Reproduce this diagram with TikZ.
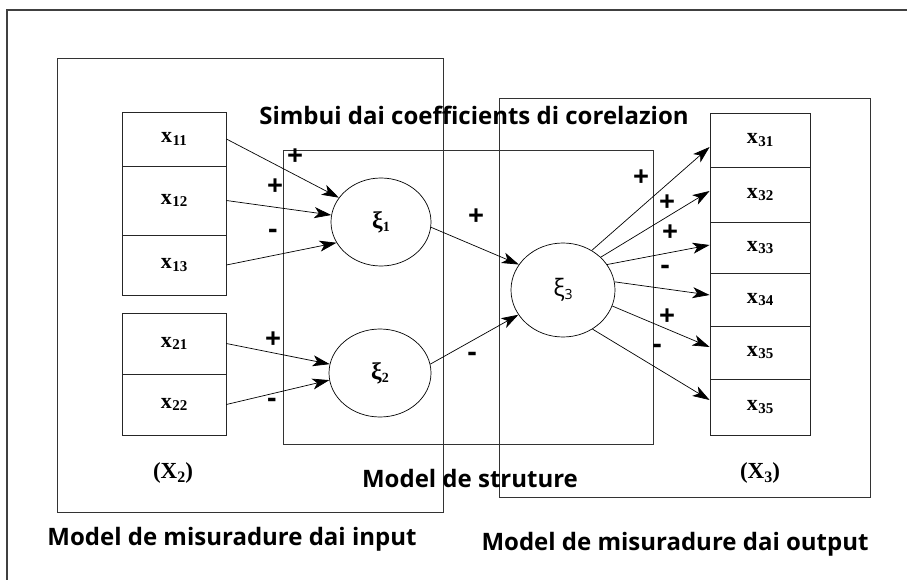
\documentclass[tikz,border=0pt]{standalone}
\usepackage{fontspec}
\setmainfont{Liberation Serif}
\setsansfont{Open Sans}
\usetikzlibrary{shapes.geometric,arrows.meta}

% indicator label: bold x with a lowered index
\newcommand{\indlab}[1]{x\kern0.5pt\raisebox{-2.5pt}{\fontsize{15}{15}\selectfont #1}}
\newcommand{\latlab}[1]{\fontsize{24}{24}\selectfont ξ\raisebox{-3pt}{\fontsize{14}{14}\selectfont #1}}
\newcommand{\blocklab}[1]{(X\raisebox{-3.5pt}{\fontsize{16}{16}\selectfont #1})}

\begin{document}
\begin{tikzpicture}[x=1pt,y=-1pt,
  box/.style={draw=black!80,line width=0.9pt},
  cell/.style={draw=black!85,line width=0.8pt,rectangle,inner sep=0pt,
    minimum width=104pt,font=\bfseries\fontsize{22}{22}\selectfont},
  rcell/.style={cell,minimum width=100pt},
  latent/.style={draw,ellipse,inner sep=0pt,line width=0.7pt,
    font=\bfseries},
  link/.style={-{Stealth[length=17pt,width=11pt,inset=4.5pt]},line width=0.7pt},
  sign/.style={font=\sffamily\bfseries\fontsize{28}{28}\selectfont,inner sep=0pt},
  caption/.style={font=\sffamily\bfseries\fontsize{24}{24}\selectfont,inner sep=0pt,anchor=base},
  block/.style={font=\bfseries\fontsize{23}{23}\selectfont,inner sep=0pt},
]
\clip (0,0) rectangle (907,580);
\fill[white] (0,0) rectangle (907,580);

% outer frame, running off the right and bottom edges
\draw[line width=1.6pt,black!75] (7,10) rectangle (960,640);

% the three model blocks
\draw[box] (57,58) rectangle (443,512);
\draw[box] (283,150) rectangle (653,444);
\draw[box] (499,98) rectangle (870,497);

% indicators of the input constructs
\node[cell,minimum height=54pt] (x11) at (174,139) {\indlab{11}};
\node[cell,minimum height=69pt] (x12) at (174,200.5) {\indlab{12}};
\node[cell,minimum height=60pt] (x13) at (174,265) {\indlab{13}};
\node[cell,minimum height=61pt] (x21) at (174,343.5) {\indlab{21}};
\node[cell,minimum height=61pt] (x22) at (174,404.5) {\indlab{22}};

% indicators of the output construct
\node[rcell,minimum height=54pt] (x31) at (760,140) {\indlab{31}};
\node[rcell,minimum height=55pt] (x32) at (760,194.5) {\indlab{32}};
\node[rcell,minimum height=51pt] (x33) at (760,247.5) {\indlab{33}};
\node[rcell,minimum height=53pt] (x34) at (760,299.5) {\indlab{34}};
\node[rcell,minimum height=53pt] (x35) at (760,352.5) {\indlab{35}};
\node[rcell,minimum height=56pt] (x36) at (760,407) {\indlab{35}};

% latent constructs
\node[latent,minimum width=100pt,minimum height=88pt] (xi1) at (381,222) {\latlab{1}};
\node[latent,minimum width=102pt,minimum height=88pt] (xi2) at (380,373) {\latlab{2}};
\node[latent,minimum width=104pt,minimum height=94pt,font=\sffamily] (xi3) at (563,290) {\latlab{3}};

% measurement paths, input side
\draw[link] (x11.east) -- (xi1.150);
\draw[link] (x12.east) -- (xi1.172);
\draw[link] (x13.east) -- (xi1.205);
\draw[link] (x21.east) -- (xi2.170);
\draw[link] (x22.east) -- (xi2.188);

% structural paths
\draw[link] (xi1.354) -- (xi3.150);
\draw[link] (xi2.10) -- (xi3.209);

% measurement paths, output side
\draw[link] (xi3.54) -- ([yshift=-7pt]x31.west);
\draw[link] (xi3.41) -- ([yshift=3.5pt]x32.west);
\draw[link] (xi3.30) -- ([yshift=2.5pt]x33.west);
\draw[link] (xi3.9) -- ([yshift=4.5pt]x34.west);
\draw[link] (xi3.342) -- ([yshift=5.5pt]x35.west);
\draw[link] (xi3.307) -- ([yshift=7pt]x36.west);

% signs of the correlation coefficients
\node[sign] (s11) at (295,157) {+};
\node[sign] (s12) at (275,187) {+};
\node[sign] (s13) at (273,234) {-};
\node[sign] (s21) at (273,340) {+};
\node[sign] (s22) at (272,403) {-};
\node[sign] (s1) at (476,217) {+};
\node[sign] (s2) at (472,357) {-};
\node[sign] (s31) at (641,178) {+};
\node[sign] (s32) at (667,203) {+};
\node[sign] (s33) at (670,233) {+};
\node[sign] (s34) at (665,270) {-};
\node[sign] (s35) at (667,317) {+};
\node[sign] (s36) at (657,349) {-};

% captions
\node[caption] (tcoef) at (474,125) {Simbui dai coefficients di corelazion};
\node[caption] (tstr) at (470,487) {Model de struture};
\node[caption] (tin) at (232,545) {Model de misuradure dai input};
\node[caption] (tout) at (675,550) {Model de misuradure dai output};
\node[block] (bx2) at (173,473) {\blocklab{2}};
\node[block] (bx3) at (760,473) {\blocklab{3}};
\end{tikzpicture}
\end{document}
